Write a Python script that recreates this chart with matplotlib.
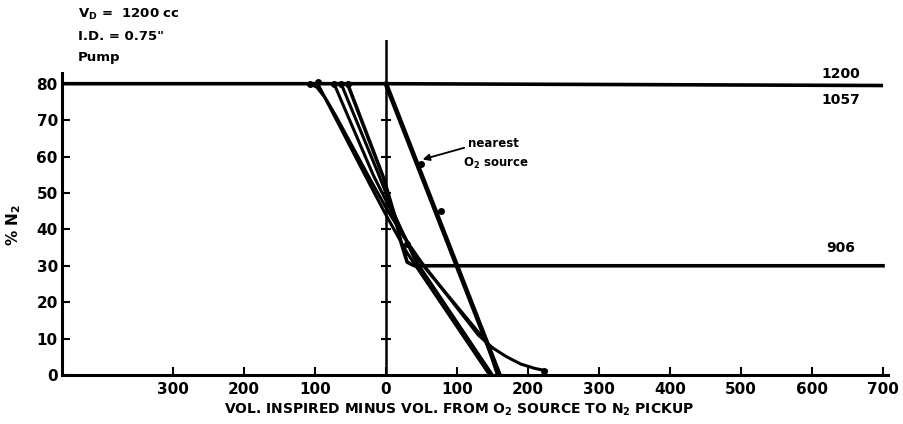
import numpy as np
import matplotlib
matplotlib.use("Agg")
import matplotlib.pyplot as plt

# ---------------------------------------------------------------
# Datos (vol. en cc, % N2)
# ---------------------------------------------------------------
# curva con hombro y cola larga
curva_a_x = [-107, -97, -85, -70, -45, -20, 0, 25, 50, 90, 130, 150, 170, 190, 210, 225]
curva_a_y = [80, 79, 76, 71, 62, 53, 46, 38, 31, 21, 11, 7.5, 5, 3, 1.8, 1.2]

curva_b_x = [-96, -88, -27, 0, 30, 146]
curva_b_y = [80, 77, 54, 44, 33.5, 0]

curva_c_x = [-73, -18, 5, 40, 142, 157]
curva_c_y = [80, 55, 46, 33, 9, 0]

curva_d_x = [-63, -10, 10, 40, 150]
curva_d_y = [80, 55, 45, 32, 0]

# curva que termina en la meseta de 30 % (906)
curva_906_x = [-54, -3, 12, 22, 30, 40, 700]
curva_906_y = [80, 54, 44, 36, 31, 30, 30]

# meseta de 80 % (1200 / 1057)
meseta_x = [-456, 0, 700]
meseta_y = [80, 80, 79.5]

# fuente de O2 mas cercana
o2_x = [0, 160]
o2_y = [80, 0]
o2_pts_x = [49, 77]
o2_pts_y = [58, 45]

# puntos sobre la meseta y otros
puntos_x = [-107, -96, -73, -63, -54, 30, 222]
puntos_y = [80, 80.5, 80, 80, 80, 36, 1]

x_ticks = [-300, -200, -100, 0, 100, 200, 300, 400, 500, 600, 700]
y_ticks = [0, 10, 20, 30, 40, 50, 60, 70, 80]
marcas_cero = [10, 20, 30, 40, 50, 60, 70]

# ---------------------------------------------------------------
plt.rcParams['font.family'] = ['DejaVu Sans']
plt.rcParams['font.weight'] = 'bold'
plt.rcParams['mathtext.default'] = 'bf'

fig = plt.figure(figsize=(9.04, 4.24), dpi=100)
ax = fig.add_axes([62 / 904, 49 / 424, 826 / 904, 335 / 424])

lw = 2.6
ax.plot(meseta_x, meseta_y, color='black', lw=lw, solid_capstyle='butt')
for xs, ys in [(curva_a_x, curva_a_y), (curva_b_x, curva_b_y),
               (curva_c_x, curva_c_y), (curva_d_x, curva_d_y)]:
    ax.plot(xs, ys, color='black', lw=2.2)
ax.plot(curva_906_x, curva_906_y, color='black', lw=lw)
ax.plot(o2_x, o2_y, color='black', lw=3.4)
ax.plot(o2_pts_x, o2_pts_y, 'o', color='black', ms=4)
ax.plot(puntos_x, puntos_y, 'o', color='black', ms=4)

# linea vertical en cero con marcas
ax.axvline(0, color='black', lw=1.8)
ax.plot([0] * len(marcas_cero), marcas_cero, marker='_', ls='none',
        color='black', ms=7, mew=1.5)

ax.set_xlim(-456, 707)
ax.set_ylim(0, 92)
ax.set_xticks(x_ticks)
ax.set_xticklabels([str(abs(v)) for v in x_ticks])
ax.set_yticks(y_ticks)
ax.tick_params(direction='in', length=6, width=1.5, labelsize=11)
ax.tick_params(axis='x', pad=5)
ax.tick_params(axis='y', pad=3)

ax.spines['top'].set_visible(False)
ax.spines['right'].set_visible(False)
ax.spines['left'].set_bounds(0, 83)
ax.spines['left'].set_linewidth(2.2)
ax.spines['bottom'].set_linewidth(2.2)

# etiquetas de las mesetas
ax.text(640, 80.8, '1200', ha='center', va='bottom', fontsize=10)
ax.text(640, 75.5, '1057', ha='center', va='center', fontsize=10)
ax.text(640, 35, '906', ha='center', va='center', fontsize=10)

ax.annotate('', xy=(48, 59), xytext=(114, 62.6),
            arrowprops=dict(arrowstyle='-|>', color='black', lw=1.3,
                            mutation_scale=10))
ax.text(115, 63.7, 'nearest', ha='left', va='center', fontsize=8.5)
ax.text(108, 58.2, r'O$_2$ source', ha='left', va='center', fontsize=8.5)

fig.text(78 / 904, 1 - 14 / 424, r'V$_D$ =  1200 cc', ha='left', va='center', fontsize=9.5)
fig.text(78 / 904, 1 - 37 / 424, 'I.D. = 0.75"', ha='left', va='center', fontsize=9.5)
fig.text(78 / 904, 1 - 58 / 424, 'Pump', ha='left', va='center', fontsize=9.5)

fig.text(14 / 904, 1 - 225 / 424, r'% N$_2$', rotation=90, ha='center', va='center', fontsize=11)
fig.text(459 / 904, 1 - 410 / 424,
         r'VOL. INSPIRED MINUS VOL. FROM O$_2$ SOURCE TO N$_2$ PICKUP',
         ha='center', va='center', fontsize=10)

plt.savefig('out.png', dpi=100)
